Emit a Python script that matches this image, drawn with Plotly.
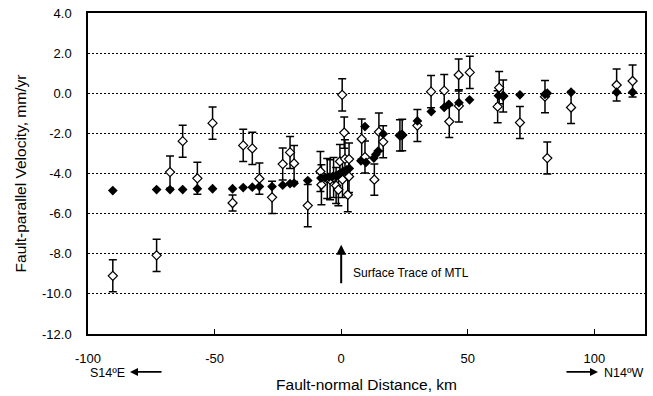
import plotly.graph_objects as go

# Model (filled) points: fault-normal distance (km), fault-parallel velocity (mm/yr)
model_x = [-90.2, -72.9, -67.6, -62.6, -56.8, -50.8, -42.9, -38.7, -35.1, -32.3,
           -27.3, -23.1, -20.2, -18.6, -13.2, -8.0, -6.4, -4.8, -3.4, -2.1,
           -1.1, -0.2, 0.8, 2.2, 3.2, 7.8, 9.4, 9.8, 12.9, 13.7,
           14.6, 16.6, 23.2, 24.1, 30.1, 35.6, 40.7, 42.5, 46.5, 50.7,
           62.1, 64.0, 70.6, 80.5, 81.4, 90.8, 108.8, 115.1]
model_v = [-4.85, -4.80, -4.80, -4.80, -4.76, -4.76, -4.76, -4.70, -4.68, -4.65,
           -4.65, -4.58, -4.50, -4.48, -4.35, -4.23, -4.20, -4.18, -4.15, -4.12,
           -4.06, -3.98, -3.90, -3.82, -3.75, -3.37, -1.66, -3.45, -3.23, -3.05,
           -2.88, -2.03, -2.10, -2.08, -1.38, -0.91, -0.71, -0.55, -0.47, -0.33,
           -0.12, -0.12, -0.08, -0.05, 0.00, 0.05, 0.05, 0.05]

# Observed (open) points with 1-sigma errors
obs_x = [-90.2, -72.9, -67.6, -62.6, -56.8, -50.8, -42.9, -38.7, -35.1, -32.3,
         -27.3, -23.1, -20.2, -18.6, -13.2, -8.2, -7.8, -5.5, -4.4, -3.0,
         -2.0, -1.1, -0.5, 0.4, 0.5, 1.2, 1.5, 2.6, 3.1, 3.1,
         8.1, 9.4, 13.1, 14.9, 16.6, 23.2, 24.1, 30.1, 35.5, 40.7,
         42.7, 46.4, 46.5, 50.8, 61.8, 62.4, 64.0, 70.6, 80.5, 81.4,
         90.8, 108.8, 115.1]
obs_v = [-9.10, -8.08, -3.93, -2.39, -4.24, -1.49, -5.47, -2.60, -2.75, -4.26,
         -5.19, -3.53, -2.95, -3.50, -5.60, -3.90, -4.56, -4.25, -4.31, -4.20,
         -4.60, -4.81, -3.40, -0.08, -4.30, -1.96, -3.27, -5.06, -3.28, -4.15,
         -2.28, -3.18, -4.31, -1.93, -2.42, -2.10, -2.08, -1.61, 0.08, 0.13,
         -1.41, 0.91, -0.63, 1.04, -0.67, 0.28, -0.14, -1.46, -0.17, -3.23,
         -0.71, 0.41, 0.61]
obs_err = [0.80, 0.80, 0.80, 0.80, 0.80, 0.80, 0.40, 0.80, 0.80, 0.78,
           0.80, 0.80, 0.80, 0.90, 1.05, 1.00, 1.00, 1.00, 1.00, 1.00,
           0.90, 0.80, 0.85, 0.80, 0.90, 0.78, 0.95, 0.85, 0.80, 0.80,
           1.00, 0.80, 0.78, 0.95, 0.80, 0.78, 0.78, 0.80, 0.80, 0.80,
           0.80, 0.80, 0.80, 0.80, 0.80, 0.80, 0.80, 0.80, 0.80, 0.80,
           0.80, 0.80, 0.80]

y_ticks = [-12, -10, -8, -6, -4, -2, 0, 2, 4]
y_tick_labels = ["-12.0", "-10.0", "-8.0", "-6.0", "-4.0", "-2.0", "0.0", "2.0", "4.0"]
x_ticks = [-100, -50, 0, 50, 100]
x_tick_labels = ["-100", "-50", "0", "50", "100"]

FONT = "Liberation Sans, Arial, sans-serif"

fig = go.Figure()
fig.add_trace(go.Scatter(
    x=obs_x, y=obs_v, mode="markers",
    error_y=dict(type="data", array=obs_err, visible=True, color="black",
                 thickness=1.5, width=4),
    marker=dict(symbol="diamond", size=7, color="white",
                line=dict(color="black", width=1.2)),
    showlegend=False))
fig.add_trace(go.Scatter(
    x=model_x, y=model_v, mode="markers",
    marker=dict(symbol="diamond", size=7.5, color="black",
                line=dict(color="black", width=0)),
    showlegend=False))

fig.update_layout(
    width=653, height=396,
    margin=dict(l=88, r=8, t=13, b=62),
    paper_bgcolor="white", plot_bgcolor="white",
    font=dict(family=FONT, color="black", size=12),
    xaxis=dict(range=[-100, 120], tickvals=x_ticks, ticktext=x_tick_labels,
               ticks="inside", ticklen=5,
               tickwidth=1, tickcolor="black", showgrid=False, zeroline=False,
               showline=True, linecolor="black", linewidth=1.5, mirror=True,
               ticklabelstandoff=12, tickfont=dict(size=13), automargin=False,
               title=dict(text="Fault-normal Distance, km", font=dict(size=15.5),
                          standoff=14)),
    yaxis=dict(range=[-12, 4], tickvals=y_ticks, ticktext=y_tick_labels, ticks="",
               showgrid=True, gridcolor="black", gridwidth=1, griddash="2px,2px",
               zeroline=False, showline=True, linecolor="black", linewidth=1.5,
               mirror=True, ticklabelstandoff=12, tickfont=dict(size=13),
               automargin=False,
               title=dict(text="Fault-parallel Velocity, mm/yr", font=dict(size=15.5),
                          standoff=12)),
)

# Surface trace arrow
fig.add_annotation(x=0, y=-7.55, ax=0, ay=-9.55, xref="x", yref="y",
                   axref="x", ayref="y", showarrow=True, arrowhead=2,
                   arrowsize=1, arrowwidth=2, arrowcolor="black", text="")
fig.add_annotation(x=4, y=-8.95, xref="x", yref="y", text="Surface Trace of MTL",
                   showarrow=False, xanchor="left", yanchor="middle",
                   font=dict(size=12))

# Direction labels
fig.add_annotation(x=0.0, y=-0.122, xref="paper", yref="paper", text="S14ºE",
                   showarrow=False, xanchor="left", yanchor="middle",
                   font=dict(size=12.5))
fig.add_annotation(x=(130 - 88) / 557, y=-0.118, ax=33, ay=0, xref="paper",
                   yref="paper", axref="pixel", ayref="pixel", showarrow=True,
                   arrowhead=2, arrowsize=1, arrowwidth=1.6, arrowcolor="black",
                   text="")
fig.add_annotation(x=1.0, y=-0.122, xref="paper", yref="paper", text="N14ºW",
                   showarrow=False, xanchor="right", yanchor="middle",
                   font=dict(size=12.5))
fig.add_annotation(x=(598 - 88) / 557, y=-0.118, ax=-33, ay=0, xref="paper",
                   yref="paper", axref="pixel", ayref="pixel", showarrow=True,
                   arrowhead=2, arrowsize=1, arrowwidth=1.6, arrowcolor="black",
                   text="")

fig.write_html("out.html", config={"displayModeBar": False},
               post_script="document.body.style.margin='0';document.body.style.padding='0';")
